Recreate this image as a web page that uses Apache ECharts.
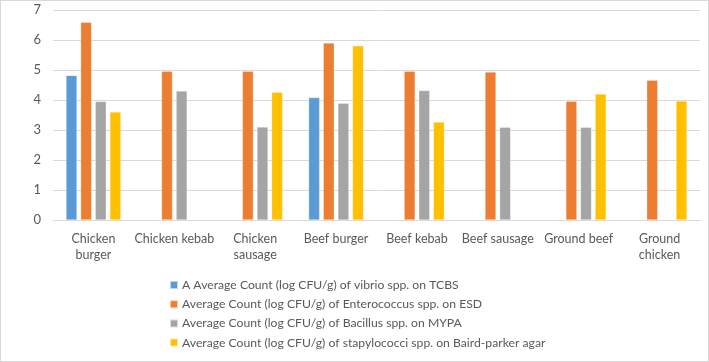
<!DOCTYPE html>
<html><head><meta charset="utf-8">
<script src="https://cdn.jsdelivr.net/npm/echarts@6/dist/echarts.min.js"></script>
<style>html,body{margin:0;padding:0;background:#fff}#c{width:709px;height:362px;box-sizing:border-box;border:1px solid #d9d9d9}</style>
</head><body><div id="c"></div>
<script>
const categories = ["Chicken\nburger","Chicken kebab","Chicken\nsausage","Beef burger","Beef kebab","Beef sausage","Ground beef","Ground\nchicken"];
const seriesNames = [
  "A Average Count (log CFU/g) of vibrio spp. on TCBS",
  "Average Count (log CFU/g) of Enterococcus spp. on ESD",
  "Average Count (log CFU/g) of Bacillus spp. on MYPA",
  "Average Count (log CFU/g) of stapylococci spp. on Baird-parker agar"
];
const vibrio = [4.82, null, null, 4.08, null, null, null, null];
const enterococcus = [6.59, 4.96, 4.96, 5.90, 4.96, 4.93, 3.96, 4.66];
const bacillus = [3.95, 4.30, 3.10, 3.89, 4.32, 3.09, 3.09, null];
const staphylococci = [3.60, null, 4.26, 5.81, 3.27, null, 4.20, 3.97];
const yTicks = [0,1,2,3,4,5,6,7];

const colors = ['#5B9BD5','#ED7D31','#A5A5A5','#FFC000'];
const font = "Lato, 'Liberation Sans', sans-serif";
const chart = echarts.init(document.getElementById('c'));
const data = [vibrio, enterococcus, bacillus, staphylococci];
chart.setOption({
  animation: false,
  color: colors,
  grid: {left: 52, right: 8, top: 9, bottom: 141, containLabel: false},
  xAxis: {
    type: 'category', data: categories,
    axisLine: {lineStyle: {color: '#d9d9d9'}},
    axisTick: {show: false},
    axisLabel: {color: '#595959', fontSize: 12.5, fontFamily: font, margin: 11, lineHeight: 16, interval: 0}
  },
  yAxis: {
    type: 'value', min: yTicks[0], max: yTicks[yTicks.length-1], interval: 1,
    axisLine: {show: false}, axisTick: {show: false},
    splitLine: {lineStyle: {color: '#d9d9d9'}},
    axisLabel: {color: '#595959', fontSize: 13, fontFamily: font, margin: 12}
  },
  legend: {
    orient: 'vertical', left: 168, top: 278, padding: 0,
    itemWidth: 8, itemHeight: 8, itemGap: 7.2,
    textStyle: {color: '#595959', fontSize: 12.2, fontFamily: font, lineHeight: 12, padding: [0,0,0,-1]},
    data: seriesNames.map(n => ({name: n, icon: 'rect'}))
  },
  series: seriesNames.map((n, i) => ({
    name: n, type: 'bar', data: data[i],
    barWidth: 11, barGap: '33%',
    itemStyle: {color: colors[i], borderColor: 'rgba(255,255,255,0.6)', borderWidth: 0.5}
  }))
});
</script></body></html>
